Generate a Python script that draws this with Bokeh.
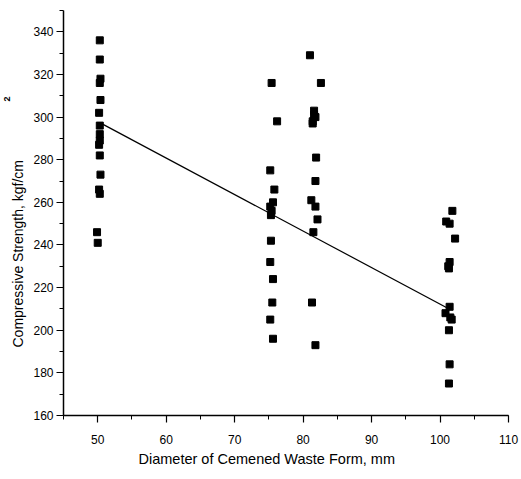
from bokeh.plotting import figure
from bokeh.models import ColumnDataSource, Range1d, SingleIntervalTicker, Title
from bokeh.embed import file_html
from bokeh.resources import INLINE

# Data
diam_x = [50.3, 50.3, 50.4, 50.3, 50.4, 50.2, 50.3, 50.3, 50.3, 50.2, 50.3, 50.4, 50.2, 50.3, 49.9, 50.0,
          75.4, 76.2, 75.2, 75.8, 75.6, 75.2, 75.4, 75.3, 75.3, 75.2, 75.6, 75.5, 75.2, 75.6,
          81.0, 82.6, 81.6, 81.6, 81.8, 81.4, 81.4, 81.9, 81.8, 81.2, 81.8, 82.1, 81.5, 81.3, 81.8,
          101.8, 100.9, 101.4, 102.2, 101.4, 101.2, 101.3, 101.4, 100.8, 101.7, 101.5, 101.3, 101.4, 101.3]
strength_y = [336, 327, 318, 316, 308, 302, 296, 292, 289, 287, 282, 273, 266, 264, 246, 241,
              316, 298, 275, 266, 260, 258, 256, 254, 242, 232, 224, 213, 205, 196,
              329, 316, 303, 301, 300, 298, 297, 281, 270, 261, 258, 252, 246, 213, 193,
              256, 251, 250, 243, 232, 230, 229, 211, 208, 205, 206, 200, 184, 175]
fit_x = [50.3, 101.2]
fit_y = [297.4, 210.2]

x_label = "Diameter of Cemened Waste Form, mm"
y_label = "Compressive Strength, kgf/cm"
y_sup = "2"

FONT = "Liberation Sans"

p = figure(width=521, height=479, output_backend="svg", toolbar_location=None,
           x_range=Range1d(45, 110), y_range=Range1d(160, 350),
           min_border_left=63, min_border_right=13, min_border_top=10, min_border_bottom=64)
p.outline_line_color = None
p.grid.visible = False
p.background_fill_color = "white"
p.border_fill_color = "white"

p.line(fit_x, fit_y, line_color="black", line_width=1.2)
src = ColumnDataSource(dict(x=diam_x, y=strength_y))
p.scatter("x", "y", source=src, marker="square", size=7, fill_color="black", line_color="black")

p.xaxis.ticker = SingleIntervalTicker(interval=10, num_minor_ticks=2)
p.yaxis.ticker = SingleIntervalTicker(interval=20, num_minor_ticks=2)

for ax in (p.xaxis[0], p.yaxis[0]):
    ax.axis_line_color = "black"
    ax.axis_line_width = 1.5
    ax.major_tick_line_color = "black"
    ax.major_tick_line_width = 1.2
    ax.minor_tick_line_color = "black"
    ax.major_tick_in = 0
    ax.major_tick_out = 7
    ax.minor_tick_in = 0
    ax.minor_tick_out = 4
    ax.major_label_text_font = FONT
    ax.major_label_text_font_size = "12px"
    ax.major_label_text_color = "black"

p.xaxis.major_label_standoff = 12
p.yaxis.major_label_standoff = 3

p.add_layout(Title(text=x_label, align="left", offset=75, standoff=4,
                   text_font=FONT, text_font_size="14.5px", text_font_style="normal",
                   text_color="black"), "below")
p.add_layout(Title(text=y_label, align="left", offset=68, standoff=10,
                   text_font=FONT, text_font_size="14px", text_font_style="normal",
                   text_color="black"), "left")
p.add_layout(Title(text=y_sup, align="left", offset=314, standoff=-15,
                   text_font=FONT, text_font_size="9px", text_font_style="bold",
                   text_color="black"), "left")

open("out.html", "w").write(file_html(p, INLINE))
